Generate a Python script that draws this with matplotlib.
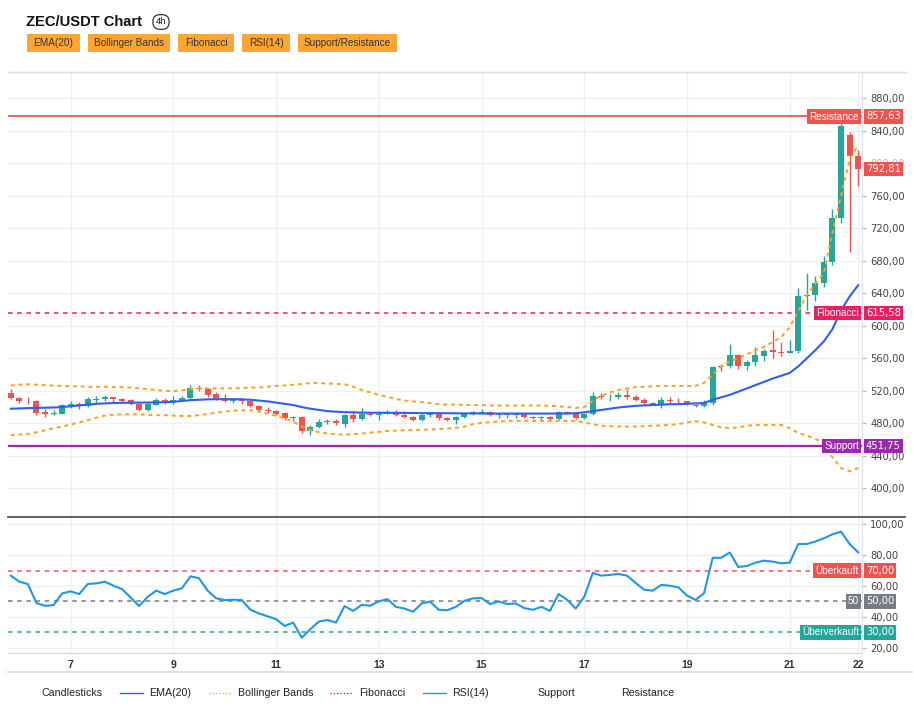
import matplotlib
matplotlib.use("Agg")
import matplotlib.pyplot as plt
from matplotlib.lines import Line2D
from matplotlib.patches import Rectangle
import matplotlib.transforms as mtransforms

plt.rcParams['font.family'] = ['Liberation Sans', 'DejaVu Sans']

# ---- data (4h candles) ----
opens = [517, 511, 508, 507, 494, 492, 492, 501, 504, 501,
         509, 510, 512, 510, 509, 504, 497, 503, 509, 506,
         509, 511, 524, 522, 516, 511, 508, 509, 507, 501,
         497, 495, 493, 486, 488, 470, 476, 482, 483, 479,
         490, 485, 492, 490, 492, 494, 490, 488, 484, 490,
         492, 486, 484, 488, 491, 493, 494, 490, 491, 490,
         491, 488, 486, 488, 485, 494, 491, 486, 492, 514,
         512, 513, 515, 512, 509, 505, 503, 509, 508, 507,
         503, 501, 505, 549, 550, 564, 550, 556, 563, 570,
         568, 567, 569, 637, 638, 653, 679, 733, 835, 809]
highs = [522, 512, 513, 509, 498, 497, 504, 507, 506, 512,
         514, 515, 513, 511, 510, 505, 506, 511, 511, 514,
         514, 527, 527, 524, 518, 516, 511, 511, 509, 502,
         500, 496, 494, 489, 489, 478, 485, 485, 485, 491,
         495, 499, 494, 495, 497, 497, 495, 489, 491, 494,
         494, 488, 489, 494, 495, 498, 495, 492, 493, 494,
         492, 489, 489, 489, 495, 495, 492, 493, 518, 517,
         516, 518, 522, 515, 511, 506, 513, 513, 511, 508,
         504, 509, 550, 553, 578, 565, 558, 574, 572, 595,
         580, 582, 647, 665, 661, 686, 744, 852, 838, 816]
lows = [510, 505, 504, 490, 488, 490, 491, 499, 498, 500,
        505, 507, 506, 505, 502, 495, 495, 502, 504, 504,
        507, 510, 520, 513, 509, 506, 505, 504, 500, 494,
        493, 490, 484, 483, 468, 466, 474, 479, 478, 475,
        482, 484, 489, 484, 491, 489, 487, 483, 483, 488,
        484, 483, 479, 486, 490, 492, 489, 487, 487, 486,
        487, 485, 484, 484, 484, 491, 485, 485, 490, 510,
        508, 510, 510, 507, 503, 502, 499, 504, 504, 502,
        500, 500, 503, 545, 548, 547, 546, 551, 557, 560,
        563, 566, 567, 619, 630, 648, 675, 726, 691, 772]
closes = [511, 508, 507, 493, 492, 493, 502, 504, 501, 510,
          510, 512, 510, 508, 504, 497, 504, 509, 507, 509,
          511, 523, 522, 515, 511, 508, 509, 508, 501, 497,
          495, 492, 486, 488, 470, 476, 482, 483, 480, 490,
          485, 492, 490, 492, 494, 490, 488, 484, 490, 492,
          486, 484, 488, 491, 494, 494, 490, 491, 490, 491,
          488, 486, 488, 485, 494, 492, 486, 492, 514, 512,
          513, 515, 512, 509, 505, 503, 509, 508, 507, 504,
          501, 505, 549, 550, 564, 550, 556, 564, 569, 568,
          567, 569, 637, 638, 653, 679, 733, 846, 809, 792.81]

ema20 = [498, 498.3, 498.7, 499, 499.2, 499.5, 500, 501, 502, 503,
         504, 504.5, 505, 505.2, 505.4, 505.5, 505.6, 505.8, 506, 506.5,
         507.5, 508.5, 509, 509.5, 509.7, 509.7, 509.7, 509.5, 509, 508,
         507, 505.5, 504, 502.5, 500, 498, 496.5, 495, 494.3, 493.8,
         493.5, 493.2, 493, 493, 493, 493, 492.8, 492.7, 492.5, 492.5,
         492.5, 492.4, 492.3, 492.2, 492.2, 492.1, 492, 492, 492, 492,
         492, 492, 492, 492, 492, 492, 492.5, 493.5, 495, 496.5,
         498, 499.5, 500.5, 501.5, 502, 502.5, 503, 503.5, 503.5, 504,
         504.5, 505, 509, 512, 515, 519, 523, 527, 531, 535,
         538.5, 542, 550, 560, 570, 581, 596, 619, 636, 650]

bb_upper = [526.6, 527.5, 528, 527.5, 527, 526.5, 526, 525.5, 525.5, 525,
            525, 525, 524.5, 524.5, 524, 523, 522, 521, 520, 519.6,
            520.5, 522, 523, 523, 523, 523, 523, 523.5, 524, 524,
            525, 526, 526.6, 527.5, 528.5, 529.5, 529.5, 529, 528.5, 528,
            525, 521, 518, 515, 512.5, 510, 508, 507, 506, 505,
            503.5, 503, 503, 502.5, 502.5, 502.5, 502, 502, 502, 502,
            502, 502, 502, 501.5, 501, 500, 499, 500, 508, 514,
            518, 521, 523, 524.5, 525, 525.5, 526, 526, 526, 526,
            526, 530, 540, 550, 556, 560, 565, 570, 574, 580,
            586, 598, 618, 638, 652, 665, 715, 760, 805, 822]

bb_lower = [465.5, 466, 467, 469, 471.5, 474, 476, 478.5, 481, 484,
            487, 489.5, 490.5, 491, 491, 491, 490.5, 490, 490, 489.5,
            489, 489, 490, 491.5, 493, 494.5, 495.5, 496, 496, 494.5,
            492, 489, 486, 482, 476, 472, 469, 467.5, 466.5, 466,
            466.5, 467.5, 468.5, 469.5, 470.5, 471, 471.5, 471.7, 472, 472.5,
            473, 473.5, 474.5, 476, 479, 480.5, 481.5, 482, 483, 483,
            483, 483, 483, 483, 483, 483, 483, 481, 479, 477,
            476.5, 476, 476, 476, 476.5, 477, 477.5, 478, 479, 481,
            482.5, 481, 478, 475, 474, 475, 477, 478, 478, 478,
            478, 474, 468, 465, 461, 455, 438, 425, 421, 425]

rsi14 = [66.7, 62.8, 61.3, 48.9, 47.2, 47.6, 55.2, 56.5, 54.8, 61.3,
         61.7, 62.8, 60.2, 58.0, 52.6, 47.0, 53.0, 57.0, 54.8, 57.0,
         58.5, 66.3, 65.0, 57.0, 52.0, 50.9, 51.1, 50.9, 44.6, 42.2,
         40.4, 38.5, 34.1, 36.3, 26.5, 32.0, 37.0, 38.0, 36.3, 47.0,
         43.9, 47.8, 47.2, 50.0, 51.5, 46.5, 45.4, 43.3, 48.7, 49.8,
         44.6, 44.3, 46.5, 50.4, 52.0, 52.2, 48.3, 50.0, 48.3, 48.7,
         45.7, 44.6, 46.5, 43.9, 54.8, 51.1, 45.4, 53.0, 68.5, 66.7,
         67.2, 67.8, 66.7, 62.0, 57.6, 57.0, 60.7, 60.2, 59.1, 53.8,
         51.0, 55.3, 78.2, 78.3, 81.7, 72.3, 73.0, 75.1, 76.4, 75.8,
         74.7, 75.1, 87.2, 87.2, 88.8, 90.9, 93.5, 95.2, 87.2, 81.8]

day_labels = ['7', '9', '11', '13', '15', '17', '19', '21', '22']
day_tick_bars = [7, 19, 31, 43, 55, 67, 79, 91, 99]
price_ticks = [400, 440, 480, 520, 560, 600, 640, 680, 720, 760, 800, 840, 880]
rsi_ticks = [20, 40, 60, 80, 100]

resistance = 857.63
fibonacci = 615.58
support = 451.75
last_price = closes[-1]
rsi_levels = [(70, 'Überkauft', '#ef5350'), (50, '50', '#787b86'), (30, 'Überverkauft', '#26a69a')]

buttons = ['EMA(20)', 'Bollinger Bands', 'Fibonacci', 'RSI(14)', 'Support/Resistance']
button_px = [(27, 80), (88, 170), (178, 234), (242, 290), (298, 397)]

UP = '#26a69a'
DOWN = '#ef5350'
GRID = '#eef0f3'


def fmt(v):
    return f"{v:.2f}".replace('.', ',')


W, H = 914, 713
fig = plt.figure(figsize=(W / 100, H / 100), dpi=100)
fig.patch.set_facecolor('white')

ax = fig.add_axes([8 / W, 1 - 517 / H, 854 / W, 445 / H])
ax2 = fig.add_axes([8 / W, 1 - 653 / H, 854 / W, 136 / H], sharex=ax)

x = list(range(len(closes)))

# candles
colors = [UP if c >= o else DOWN for o, c in zip(opens, closes)]
ax.vlines(x, lows, highs, colors=colors, linewidth=1, zorder=3)
bottoms = [min(o, c) for o, c in zip(opens, closes)]
heights = [max(abs(c - o), 0.8) for o, c in zip(opens, closes)]
ax.bar(x, heights, bottom=bottoms, width=0.7, color=colors, zorder=4)

# indicators
ax.plot(x, ema20, color='#2f5fef', lw=1.5, zorder=5)
ax.plot(x, bb_upper, color='#ff9f1a', lw=1.4, ls=(0, (2, 2)), zorder=5)
ax.plot(x, bb_lower, color='#ff9f1a', lw=1.4, ls=(0, (2, 2)), zorder=5)

ax.axhline(resistance, color='#e53935', lw=1.1, zorder=2)
ax.axhline(fibonacci, color='#e91e63', lw=1.1, ls=(0, (3, 3)), zorder=2)
ax.axhline(support, color='#9c27b0', lw=1.6, zorder=2)

ax.set_xlim(-0.32, 99.45)
ax.set_ylim(364.7, 912.4)

# rsi
ax2.plot(x, rsi14, color='#2196e8', lw=1.5, zorder=5)
for lvl, _, col in rsi_levels:
    ax2.axhline(lvl, color=col, lw=1.1, ls=(0, (3, 3)), zorder=2)
ax2.set_ylim(16.6, 104.7)

# axes styling
for a, ticks in ((ax, price_ticks), (ax2, rsi_ticks)):
    a.yaxis.tick_right()
    a.set_yticks(ticks)
    a.set_yticklabels([fmt(t) for t in ticks], fontsize=7.2, color='#444',
                      family='DejaVu Sans')
    a.tick_params(axis='y', length=3, color='#b2b5be', pad=3)
    a.set_xticks(day_tick_bars)
    a.grid(True, color=GRID, lw=1, zorder=0)
    a.set_axisbelow(True)
    a.spines['left'].set_visible(False)
    a.spines['right'].set_color('#e0e3eb')
    a.spines['top'].set_visible(False)
ax.spines['bottom'].set_visible(False)
ax2.spines['bottom'].set_color('#d1d4dc')
ax.tick_params(axis='x', length=0, labelbottom=False)
ax2.set_xticklabels(day_labels, fontsize=7.5, fontweight='bold', color='#333')
ax2.tick_params(axis='x', length=0, pad=5)

# the 800 label sits behind the last-price tag
ax.get_yticklabels()[price_ticks.index(800)].set_alpha(0.35)

# frame lines that run under the price scale too
fig.lines.append(Line2D([8 / W, 906 / W], [1 - 72 / H] * 2, transform=fig.transFigure,
                        color='#dcdfe5', lw=1))
fig.lines.append(Line2D([8 / W, 905 / W], [1 - 517 / H] * 2, transform=fig.transFigure,
                        color='#555555', lw=1.3))

# price tags on the scale
def tag(a, y, name, value, col):
    tr = mtransforms.blended_transform_factory(fig.transFigure, a.transData)
    box = dict(boxstyle='square,pad=0.22', fc=col, ec='none')
    if name:
        a.text(859 / W, y, name, transform=tr, ha='right', va='center',
               fontsize=7.2, color='white', bbox=box, zorder=10, clip_on=False)
    a.text(866 / W, y, value, transform=tr, ha='left', va='center',
           fontsize=7.2, color='white', bbox=box, zorder=10, clip_on=False,
           family='DejaVu Sans')

tag(ax, resistance, 'Resistance', fmt(resistance), '#ef5350')
tag(ax, last_price, None, fmt(last_price), '#ef5350')
tag(ax, fibonacci, 'Fibonacci', fmt(fibonacci), '#e91e63')
tag(ax, support, 'Support', fmt(support), '#9c27b0')
for lvl, name, col in rsi_levels:
    tag(ax2, lvl, name, fmt(lvl), col)

# header
fig.text(26 / W, 1 - 22 / H, 'ZEC/USDT Chart', fontsize=10.6, fontweight='bold',
         va='center', ha='left', color='#111')
fig.text(161 / W, 1 - 22 / H, '4h', fontsize=6.8, va='center', ha='center', color='#111',
         bbox=dict(boxstyle='round,pad=0.3,rounding_size=0.75', fc='white', ec='#333', lw=0.9))

for label, (x0, x1) in zip(buttons, button_px):
    fig.patches.append(Rectangle((x0 / W, 1 - 52 / H), (x1 - x0) / W, 18 / H,
                                 transform=fig.transFigure, fc='#ffa534', ec='none'))
    fig.text((x0 + x1) / 2 / W, 1 - 43 / H, label, fontsize=7.2, ha='center', va='center',
             color='#333')

# footer line + legend
fig.lines.append(Line2D([8 / W, 912 / W], [1 - 672 / H, 1 - 672 / H], transform=fig.transFigure,
                        color='#d9d9d9', lw=1.2))
ly = 1 - 693 / H
legend_items = [
    ('Candlesticks', None, None, 41),
    ('EMA(20)', '#2f5fef', '-', 149),
    ('Bollinger Bands', '#ff9f1a', ':', 238),
    ('Fibonacci', '#c2185b', ':', 359),
    ('RSI(14)', '#2196e8', '-', 452),
    ('Support', None, None, 537),
    ('Resistance', None, None, 621),
]
for label, col, ls, lx in legend_items:
    if col:
        fig.lines.append(Line2D([(lx - 29) / W, (lx - 6) / W], [ly, ly], transform=fig.transFigure,
                                color=col, lw=1 if ls == '-' else 0.9, ls=ls))
    fig.text(lx / W, ly, label, fontsize=7.7, va='center', ha='left', color='#222')

fig.savefig('out.png', dpi=100, facecolor='white')
